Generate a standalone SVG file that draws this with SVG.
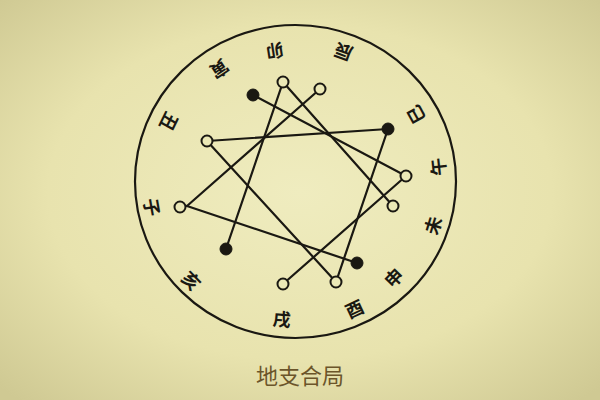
<svg xmlns="http://www.w3.org/2000/svg" width="600" height="400" viewBox="0 0 600 400">
<defs>
<radialGradient id="bg" cx="50%" cy="48%" r="70%">
<stop offset="0" stop-color="#efecbf"/>
<stop offset="0.6" stop-color="#e8e3ae"/>
<stop offset="1" stop-color="#cfc993"/>
</radialGradient>
<style>
.ln{stroke:#1a1812;stroke-width:2.2;fill:none;stroke-linecap:round}
.open{fill:#ebe8b6;stroke:#1a1812;stroke-width:2}
.fill{fill:#1a1812;stroke:#1a1812;stroke-width:1}
.br{font-family:"Noto Sans CJK SC","Noto Sans CJK TC",sans-serif;font-size:18px;font-weight:bold;fill:#1a1812;text-anchor:middle;dominant-baseline:central}
.cap{font-family:"Noto Sans CJK SC",sans-serif;font-size:22px;fill:#6b552a;text-anchor:middle}
</style>
</defs>
<rect width="600" height="400" fill="url(#bg)"/>
<ellipse cx="295.5" cy="181.5" rx="160.5" ry="156.5" fill="none" stroke="#1a1812" stroke-width="2.2"/>
<g id="connectors">
<line class="ln" x1="253" y1="95" x2="406" y2="176"/>
<line class="ln" x1="283" y1="82" x2="393" y2="206"/>
<line class="ln" x1="320" y1="89" x2="187" y2="206"/>
<line class="ln" x1="207" y1="141" x2="388" y2="129"/>
<line class="ln" x1="207" y1="141" x2="336" y2="282"/>
<line class="ln" x1="388" y1="129" x2="336" y2="282"/>
<line class="ln" x1="406" y1="176" x2="283" y2="284"/>
<line class="ln" x1="187" y1="206" x2="357" y2="263"/>
<line class="ln" x1="226" y1="249" x2="283" y2="82"/>
</g>
<g id="zi"><circle class="open" cx="180" cy="207" r="5.5"/><text class="br" transform="translate(153,207) rotate(80)">子</text></g>
<g id="chou"><circle class="open" cx="207" cy="141" r="5.5"/><text class="br" transform="translate(170,122) rotate(116)">丑</text></g>
<g id="yin"><circle class="fill" cx="253" cy="95" r="6"/><text class="br" transform="translate(220,70) rotate(146)">寅</text></g>
<g id="mao"><circle class="open" cx="283" cy="82" r="5.5"/><text class="br" transform="translate(275,52) rotate(171)">卯</text></g>
<g id="chen"><circle class="open" cx="320" cy="89" r="5.5"/><text class="br" transform="translate(343,53) rotate(200)">辰</text></g>
<g id="si"><circle class="fill" cx="388" cy="129" r="6"/><text class="br" transform="translate(415,115) rotate(241)">巳</text></g>
<g id="wu"><circle class="open" cx="406" cy="176" r="5.5"/><text class="br" transform="translate(437,167) rotate(264)">午</text></g>
<g id="wei"><circle class="open" cx="393" cy="206" r="5.5"/><text class="br" transform="translate(432,225) rotate(-73)">未</text></g>
<g id="shen"><circle class="fill" cx="357" cy="263" r="6"/><text class="br" transform="translate(393,277) rotate(-46)">申</text></g>
<g id="you"><circle class="open" cx="336" cy="282" r="5.5"/><text class="br" transform="translate(354,308) rotate(-25)">酉</text></g>
<g id="xu"><circle class="open" cx="283" cy="284" r="5.5"/><text class="br" transform="translate(282,318) rotate(5)">戌</text></g>
<g id="hai"><circle class="fill" cx="226" cy="249" r="6"/><text class="br" transform="translate(192,280) rotate(46)">亥</text></g>
<text class="cap" x="300" y="384">地支合局</text>
</svg>
